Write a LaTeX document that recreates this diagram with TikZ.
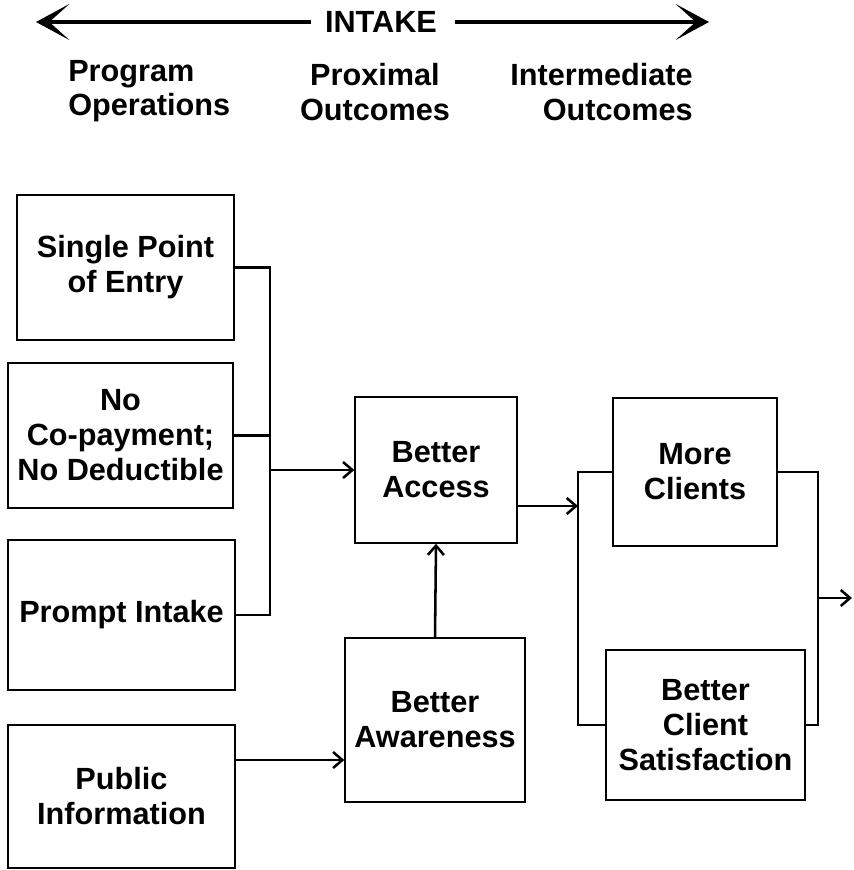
\documentclass[tikz,border=0pt]{standalone}
\usepackage{fontspec}
\setmainfont{Liberation Sans}
\usetikzlibrary{arrows.meta}
\tikzset{
  box/.style={draw, line width=1pt, align=center, inner sep=0pt,
    font=\bfseries\fontsize{23}{26.25}\selectfont},
  label/.style={inner sep=0pt, font=\bfseries\fontsize{23}{26}\selectfont},
  link/.style={line width=1.9pt},
  linkarrow/.style={link, -{Straight Barb[length=7pt,width=12pt]}},
  bigbarb/.style={line width=3.2pt, -{Stealth[length=25pt,width=27pt,inset=15pt]}}
}
\begin{document}
\begin{tikzpicture}[x=0.75pt,y=-0.75pt]
  \useasboundingbox (0,0) rectangle (853,870);

  % header: span arrow and column titles
  \node[label] (intake) at (381,22) {INTAKE};
  \coordinate (lefttip) at (36,22);
  \coordinate (righttip) at (709,22);
  \draw[bigbarb] (intake.west) ++(-14,0) -- (lefttip);
  \draw[bigbarb] (intake.east) ++(18,0) -- (righttip);
  \node[label, anchor=west, align=left] (ops) at (68,91) {Program\\Operations};
  \node[label, align=center] (prox) at (375,92) {Proximal\\Outcomes};
  \node[label, anchor=east, align=right] (inter) at (693,92) {Intermediate\\Outcomes};

  % program operations
  \node[box, minimum width=162.75pt, minimum height=108.75pt] (spe) at (125.5,267.5) {Single Point\\of Entry};
  \node[box, minimum width=168.75pt, minimum height=108.75pt] (nocp) at (120.5,435.5) {No\\Co-payment;\\No Deductible};
  \node[box, minimum width=170.25pt, minimum height=112.5pt] (prompt) at (121.5,615) {Prompt Intake};
  \node[box, minimum width=170.25pt, minimum height=107.25pt] (pub) at (121.5,796.5) {Public\\Information};

  % proximal outcomes
  \node[box, minimum width=121.5pt, minimum height=109.5pt] (acc) at (436,470) {Better\\Access};
  \node[box, minimum width=135pt, minimum height=123pt] (aw) at (435,720) {Better\\Awareness};

  % intermediate outcomes
  \node[box, minimum width=123pt, minimum height=111pt] (more) at (695,472) {More\\Clients};
  \node[box, minimum width=149.25pt, minimum height=112.5pt] (sat) at (705.5,725) {Better\\Client\\Satisfaction};

  % junction points and the outgoing end
  \coordinate (lbus) at (270,0);
  \coordinate (rbus) at (578,0);
  \coordinate (obus) at (818,0);
  \coordinate (outend) at (852,598);

  % operations feed into better access
  \draw[link] (spe.east) -- (spe.east -| lbus) -- (prompt.east -| lbus) -- (prompt.east);
  \draw[link] (nocp.east) -- (nocp.east -| lbus);
  \draw[linkarrow] (acc.west -| lbus) -- (acc.west);

  % awareness path
  \draw[linkarrow] (pub.east |- 0,760) -- (aw.west |- 0,760);
  \draw[linkarrow] (aw.north) -- (acc.south);

  % access feeds the intermediate outcomes
  \draw[link] (more.west) -- (more.west -| rbus) -- (sat.west -| rbus) -- (sat.west);
  \draw[linkarrow] (acc.east |- 0,506) -- (rbus |- 0,506);
  \draw[link] (more.east) -- (more.east -| obus) -- (sat.east -| obus) -- (sat.east);
  \draw[linkarrow] (obus |- outend) -- (outend);
\end{tikzpicture}
\end{document}
